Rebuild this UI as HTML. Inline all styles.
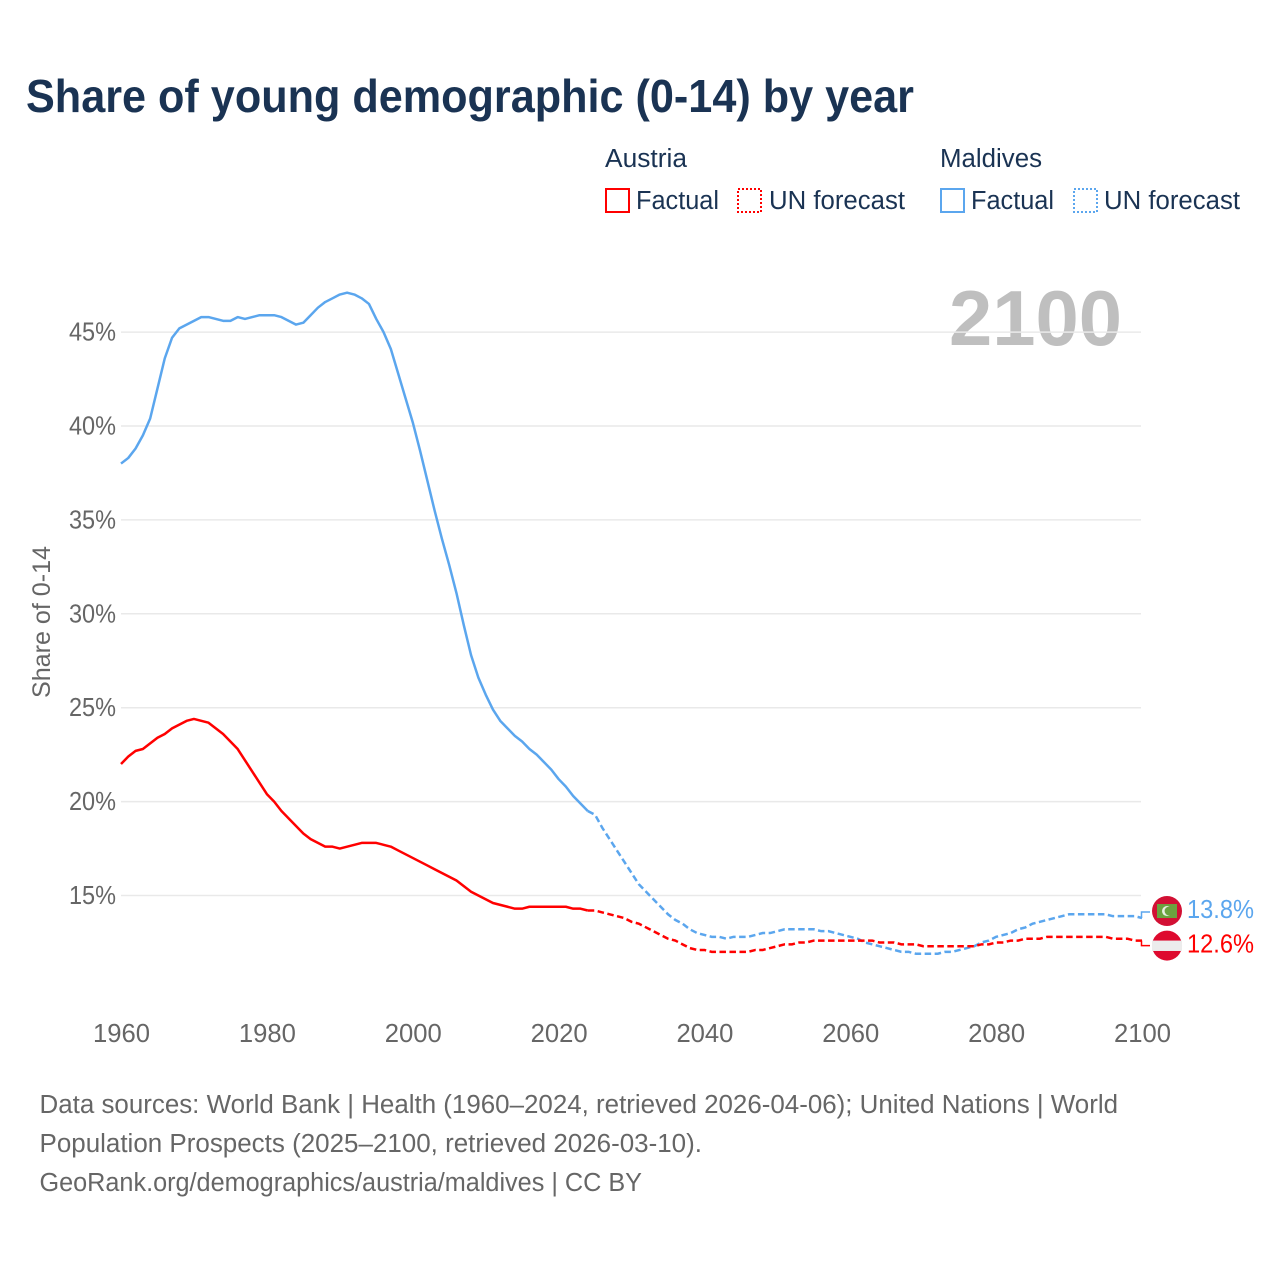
<!DOCTYPE html>
<html lang="en">
<head>
<meta charset="utf-8">
<title>Share of young demographic (0-14) by year</title>
<style>
html,body{margin:0;padding:0;background:#fff;}
svg{display:block;font-family:"Liberation Sans",sans-serif;}
</style>
</head>
<body>
<svg id="chart" xmlns="http://www.w3.org/2000/svg" width="1280" height="1280" viewBox="0 0 1280 1280">
  <rect x="0" y="0" width="1280" height="1280" fill="#ffffff"/>
  <text x="26" y="112" font-size="46" font-weight="700" fill="#1a3353" textLength="888" lengthAdjust="spacingAndGlyphs">Share of young demographic (0-14) by year</text>

  <g>
    <text x="605" y="167" font-size="25.5" fill="#1a3353" textLength="82" lengthAdjust="spacingAndGlyphs">Austria</text>
    <rect x="606" y="189" width="23" height="23" fill="none" stroke="#ff0000" stroke-width="2"/>
    <text x="636" y="209" font-size="25.5" fill="#1a3353" textLength="83" lengthAdjust="spacingAndGlyphs">Factual</text>
    <rect x="738" y="189" width="23" height="23" fill="none" stroke="#ff0000" stroke-width="2" stroke-dasharray="2 2"/>
    <text x="769" y="209" font-size="25.5" fill="#1a3353" textLength="136" lengthAdjust="spacingAndGlyphs">UN forecast</text>
    <text x="940" y="167" font-size="25.5" fill="#1a3353" textLength="102" lengthAdjust="spacingAndGlyphs">Maldives</text>
    <rect x="941" y="189" width="23" height="23" fill="none" stroke="#5ba6ee" stroke-width="2"/>
    <text x="971" y="209" font-size="25.5" fill="#1a3353" textLength="83" lengthAdjust="spacingAndGlyphs">Factual</text>
    <rect x="1074" y="189" width="23" height="23" fill="none" stroke="#5ba6ee" stroke-width="2" stroke-dasharray="2 2"/>
    <text x="1104" y="209" font-size="25.5" fill="#1a3353" textLength="136" lengthAdjust="spacingAndGlyphs">UN forecast</text>
  </g>

  <text x="949" y="345" font-size="78" font-weight="700" fill="#bfbfbf" textLength="173" lengthAdjust="spacingAndGlyphs">2100</text>
  <text transform="translate(50,698) rotate(-90)" x="0" y="0" font-size="25" fill="#666666" textLength="152" lengthAdjust="spacingAndGlyphs">Share of 0-14</text>

  <g id="grid"></g>
  <g id="y-ticks"></g>
  <g id="x-ticks"></g>
  <g id="series"></g>
  <g id="end-labels"></g>

  <g font-size="25.5" fill="#666666">
    <text x="39.5" y="1113" textLength="1078.5" lengthAdjust="spacingAndGlyphs">Data sources: World Bank | Health (1960–2024, retrieved 2026-04-06); United Nations | World</text>
    <text x="39.5" y="1152" textLength="662.5" lengthAdjust="spacingAndGlyphs">Population Prospects (2025–2100, retrieved 2026-03-10).</text>
    <text x="39.5" y="1191" textLength="602.5" lengthAdjust="spacingAndGlyphs">GeoRank.org/demographics/austria/maldives | CC BY</text>
  </g>
</svg>

<script>
const firstYear = 1960;
const forecastStartYear = 2025;
const xTickYears = [1960, 1980, 2000, 2020, 2040, 2060, 2080, 2100];
const yTickValues = [15, 20, 25, 30, 35, 40, 45];
const yTickLabels = ["15%", "20%", "25%", "30%", "35%", "40%", "45%"];

const austriaFactual = [
  22.0,22.4,22.7,22.8,23.1,23.4,23.6,23.9,24.1,24.3,
  24.4,24.3,24.2,23.9,23.6,23.2,22.8,22.2,21.6,21.0,
  20.4,20.0,19.5,19.1,18.7,18.3,18.0,17.8,17.6,17.6,
  17.5,17.6,17.7,17.8,17.8,17.8,17.7,17.6,17.4,17.2,
  17.0,16.8,16.6,16.4,16.2,16.0,15.8,15.5,15.2,15.0,
  14.8,14.6,14.5,14.4,14.3,14.3,14.4,14.4,14.4,14.4,
  14.4,14.4,14.3,14.3,14.2
];
const austriaForecast = [
  14.2,14.1,14.0,13.9,13.8,
  13.6,13.5,13.3,13.1,12.9,12.7,12.6,12.4,12.2,12.1,
  12.1,12.0,12.0,12.0,12.0,12.0,12.0,12.1,12.1,12.2,
  12.3,12.4,12.4,12.5,12.5,12.6,12.6,12.6,12.6,12.6,
  12.6,12.6,12.6,12.6,12.5,12.5,12.5,12.4,12.4,12.4,
  12.3,12.3,12.3,12.3,12.3,12.3,12.3,12.3,12.4,12.4,
  12.5,12.5,12.6,12.6,12.7,12.7,12.7,12.8,12.8,12.8,
  12.8,12.8,12.8,12.8,12.8,12.8,12.7,12.7,12.7,12.6,
  12.6
];
const maldivesFactual = [
  38.0,38.3,38.8,39.5,40.4,42.0,43.6,44.7,45.2,45.4,
  45.6,45.8,45.8,45.7,45.6,45.6,45.8,45.7,45.8,45.9,
  45.9,45.9,45.8,45.6,45.4,45.5,45.9,46.3,46.6,46.8,
  47.0,47.1,47.0,46.8,46.5,45.7,45.0,44.1,42.8,41.5,
  40.2,38.7,37.1,35.5,34.0,32.6,31.1,29.4,27.8,26.6,
  25.7,24.9,24.3,23.9,23.5,23.2,22.8,22.5,22.1,21.7,
  21.2,20.8,20.3,19.9,19.5
];
const maldivesForecast = [
  19.3,18.6,18.0,17.4,16.8,
  16.2,15.6,15.2,14.8,14.4,14.0,13.7,13.5,13.2,13.0,
  12.9,12.8,12.8,12.7,12.8,12.8,12.8,12.9,13.0,13.0,
  13.1,13.2,13.2,13.2,13.2,13.2,13.1,13.1,13.0,12.9,
  12.8,12.7,12.5,12.4,12.3,12.2,12.1,12.0,12.0,11.9,
  11.9,11.9,11.9,12.0,12.0,12.1,12.2,12.3,12.5,12.6,
  12.8,12.9,13.0,13.2,13.3,13.5,13.6,13.7,13.8,13.9,
  14.0,14.0,14.0,14.0,14.0,14.0,13.9,13.9,13.9,13.9,
  13.8
];

const SVG_NS = "http://www.w3.org/2000/svg";
const xScale = function (year) { return 121 + (year - 1960) * 7.293; };
const yScale = function (value) { return 895.5 - (value - 15) * 18.78; };

function make(tag, parent) {
  const el = document.createElementNS(SVG_NS, tag);
  parent.appendChild(el);
  return el;
}

const gridGroup = document.getElementById("grid");
const yGroup = document.getElementById("y-ticks");
yTickValues.forEach(function (v, i) {
  const line = make("line", gridGroup);
  
  
  line.setAttribute("x1", 121);
  line.setAttribute("x2", 1141);
  line.setAttribute("y1", yScale(v));
  line.setAttribute("y2", yScale(v));
  line.setAttribute("stroke", "#e9e9e9");
  line.setAttribute("stroke-width", "1.5");

  const t = make("text", yGroup);
  
  
  t.setAttribute("x", 69);
  t.setAttribute("y", yScale(v) + 8.5);
  t.setAttribute("font-size", "25.5");
  t.setAttribute("fill", "#666666");
  t.setAttribute("textLength", "47");
  t.setAttribute("lengthAdjust", "spacingAndGlyphs");
  t.textContent = yTickLabels[i];
});

const xGroup = document.getElementById("x-ticks");
xTickYears.forEach(function (yr) {
  const t = make("text", xGroup);
  
  
  t.setAttribute("x", xScale(yr) - 28);
  t.setAttribute("y", 1042);
  t.setAttribute("font-size", "25.5");
  t.setAttribute("fill", "#666666");
  t.setAttribute("textLength", "57");
  t.setAttribute("lengthAdjust", "spacingAndGlyphs");
  t.textContent = String(yr);
});

function pathFrom(values, startYear, lead) {
  const pts = lead ? [lead] : [];
  values.forEach(function (v, i) {
    pts.push(xScale(startYear + i).toFixed(2) + "," + yScale(v).toFixed(2));
  });
  return "M" + pts.join("L");
}

const seriesGroup = document.getElementById("series");

function drawSeries(factual, forecast, color, factualName, forecastName) {
  const lastIdx = factual.length - 1;
  const lead = xScale(firstYear + lastIdx).toFixed(2) + "," + yScale(factual[lastIdx]).toFixed(2);

  const dashed = make("path", seriesGroup);
  
  
  dashed.setAttribute("d", pathFrom(forecast, forecastStartYear, lead));
  dashed.setAttribute("fill", "none");
  dashed.setAttribute("stroke", color);
  dashed.setAttribute("stroke-width", "2.5");
  dashed.setAttribute("stroke-dasharray", "6.5 3.5");

  const solid = make("path", seriesGroup);
  
  
  solid.setAttribute("d", pathFrom(factual, firstYear, null));
  solid.setAttribute("fill", "none");
  solid.setAttribute("stroke", color);
  solid.setAttribute("stroke-width", "2.5");
  solid.setAttribute("stroke-linejoin", "round");
}

drawSeries(maldivesFactual, maldivesForecast, "#5ba6ee", "maldives-factual-line", "maldives-forecast-line");
drawSeries(austriaFactual, austriaForecast, "#ff0000", "austria-factual-line", "austria-forecast-line");

const endGroup = document.getElementById("end-labels");

function drawEnd(value, offset, color, name) {
  const yStart = yScale(value);
  const cy = yStart + offset;
  const elbow = make("path", endGroup);
  
  
  elbow.setAttribute("d", "M1141.5," + yStart + "V" + (cy + (offset < 0 ? 1 : 0)) + "H1150");
  elbow.setAttribute("fill", "none");
  elbow.setAttribute("stroke", color);
  elbow.setAttribute("stroke-width", "1.5");

  const label = make("text", endGroup);
  
  
  label.setAttribute("x", 1187);
  label.setAttribute("y", cy + 6.8);
  label.setAttribute("font-size", "26");
  label.setAttribute("fill", color);
  label.setAttribute("textLength", "67");
  label.setAttribute("lengthAdjust", "spacingAndGlyphs");
  label.textContent = value.toFixed(1) + "%";
  return cy;
}

function drawFlagMaldives(cy) {
  const g = make("g", endGroup);
  
  
  const c = make("circle", g);
  c.setAttribute("cx", 1167); c.setAttribute("cy", cy); c.setAttribute("r", 15);
  c.setAttribute("fill", "#d21034");
  const r = make("rect", g);
  r.setAttribute("x", 1157); r.setAttribute("y", cy - 7); r.setAttribute("width", 20); r.setAttribute("height", 14);
  r.setAttribute("fill", "#6ba33f");
  const m = make("circle", g);
  m.setAttribute("cx", 1167); m.setAttribute("cy", cy); m.setAttribute("r", 5);
  m.setAttribute("fill", "#e8efe2");
  const m2 = make("circle", g);
  m2.setAttribute("cx", 1169); m2.setAttribute("cy", cy); m2.setAttribute("r", 4.4);
  m2.setAttribute("fill", "#6ba33f");
}

function drawFlagAustria(cy) {
  const g = make("g", endGroup);
  
  
  const c = make("circle", g);
  c.setAttribute("cx", 1167); c.setAttribute("cy", cy); c.setAttribute("r", 15);
  c.setAttribute("fill", "#de0a2e");
  const r = make("rect", g);
  r.setAttribute("x", 1152); r.setAttribute("y", cy - 5); r.setAttribute("width", 30); r.setAttribute("height", 10.4);
  r.setAttribute("fill", "#ececec");
}

const lastMaldives = maldivesForecast[maldivesForecast.length - 1];
const lastAustria = austriaForecast[austriaForecast.length - 1];
drawFlagMaldives(drawEnd(lastMaldives, -7, "#5ba6ee", "maldives"));
drawFlagAustria(drawEnd(lastAustria, 5, "#ff0000", "austria"));
</script>
</body>
</html>
